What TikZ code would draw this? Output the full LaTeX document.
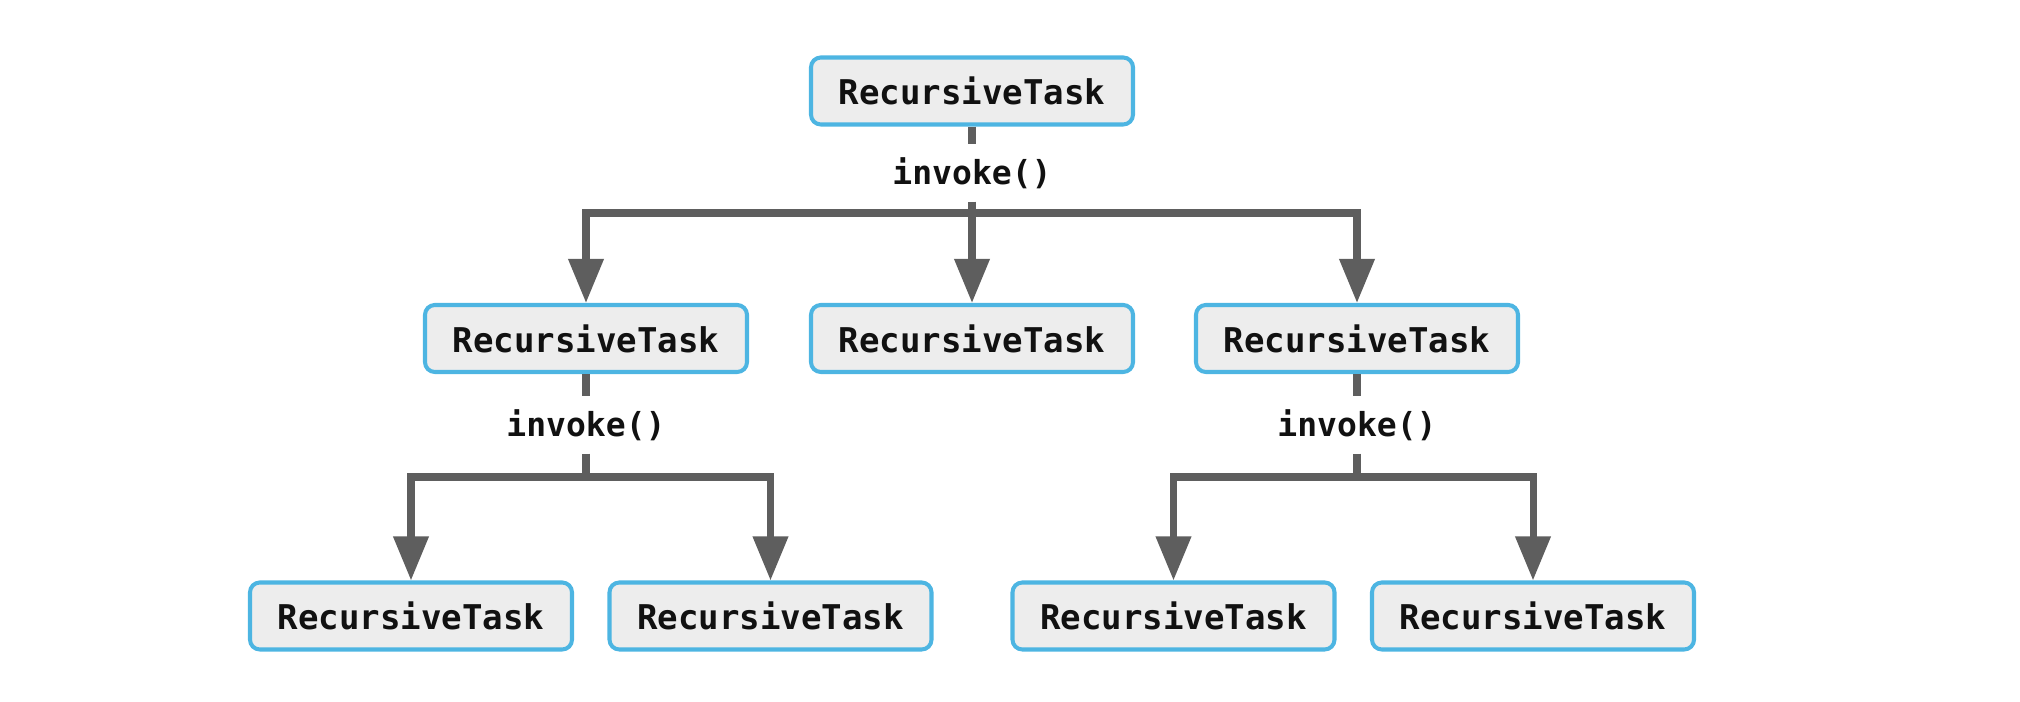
\documentclass[tikz,border=0pt]{standalone}
\usepackage{fontspec}
\setmonofont{DejaVu Sans Mono}
\usetikzlibrary{arrows.meta}

\begin{document}
\begin{tikzpicture}[
    task/.style={draw=plava, fill=siva, line width=1.15pt, rounded corners=2.8pt,
        minimum width=3.22cm, minimum height=0.67cm, inner sep=0pt,
        text=crna, font=\fontsize{9.7}{12}\selectfont\ttfamily\bfseries},
    call/.style={fill=white, minimum height=0.56cm, inner sep=0pt,
        text=crna, font=\fontsize{9.4}{12}\selectfont\ttfamily\bfseries},
    link/.style={draw=tamna, line width=2pt},
    arr/.style={link, -{Triangle[width=0.34cm, length=0.44cm]}}
]
\definecolor{plava}{RGB}{77,181,226}
\definecolor{siva}{RGB}{237,237,237}
\definecolor{tamna}{RGB}{94,94,94}
\definecolor{crna}{RGB}{17,17,17}

\useasboundingbox (0, 0) rectangle (20.20, 7.02);

\node[task] (root) at (9.72, 6.11) {RecursiveTask};

\node[task] (left)   at (5.86, 3.635) {RecursiveTask};
\node[task] (middle) at (9.72, 3.635) {RecursiveTask};
\node[task] (right)  at (13.57, 3.635) {RecursiveTask};

\node[task] (leftA)  at (4.11, 0.86) {RecursiveTask};
\node[task] (leftB)  at (7.705, 0.86) {RecursiveTask};
\node[task] (rightA) at (11.735, 0.86) {RecursiveTask};
\node[task] (rightB) at (15.33, 0.86) {RecursiveTask};

\node[call] (invRoot)  at (9.72, 5.29) {invoke()};
\node[call] (invLeft)  at (5.86, 2.77) {invoke()};
\node[call] (invRight) at (13.57, 2.77) {invoke()};

\coordinate (splitRoot)  at (9.72, 4.89);
\coordinate (splitLeft)  at (5.86, 2.25);
\coordinate (splitRight) at (13.57, 2.25);

% first level
\draw[link] (root) -- (invRoot);
\draw[link] (invRoot) -- (splitRoot);
\draw[arr] (splitRoot) -| (left);
\draw[arr] (splitRoot) -- (middle);
\draw[arr] (splitRoot) -| (right);

% second level
\draw[link] (left) -- (invLeft);
\draw[link] (invLeft) -- (splitLeft);
\draw[arr] (splitLeft) -| (leftA);
\draw[arr] (splitLeft) -| (leftB);

\draw[link] (right) -- (invRight);
\draw[link] (invRight) -- (splitRight);
\draw[arr] (splitRight) -| (rightA);
\draw[arr] (splitRight) -| (rightB);

\end{tikzpicture}
\end{document}
